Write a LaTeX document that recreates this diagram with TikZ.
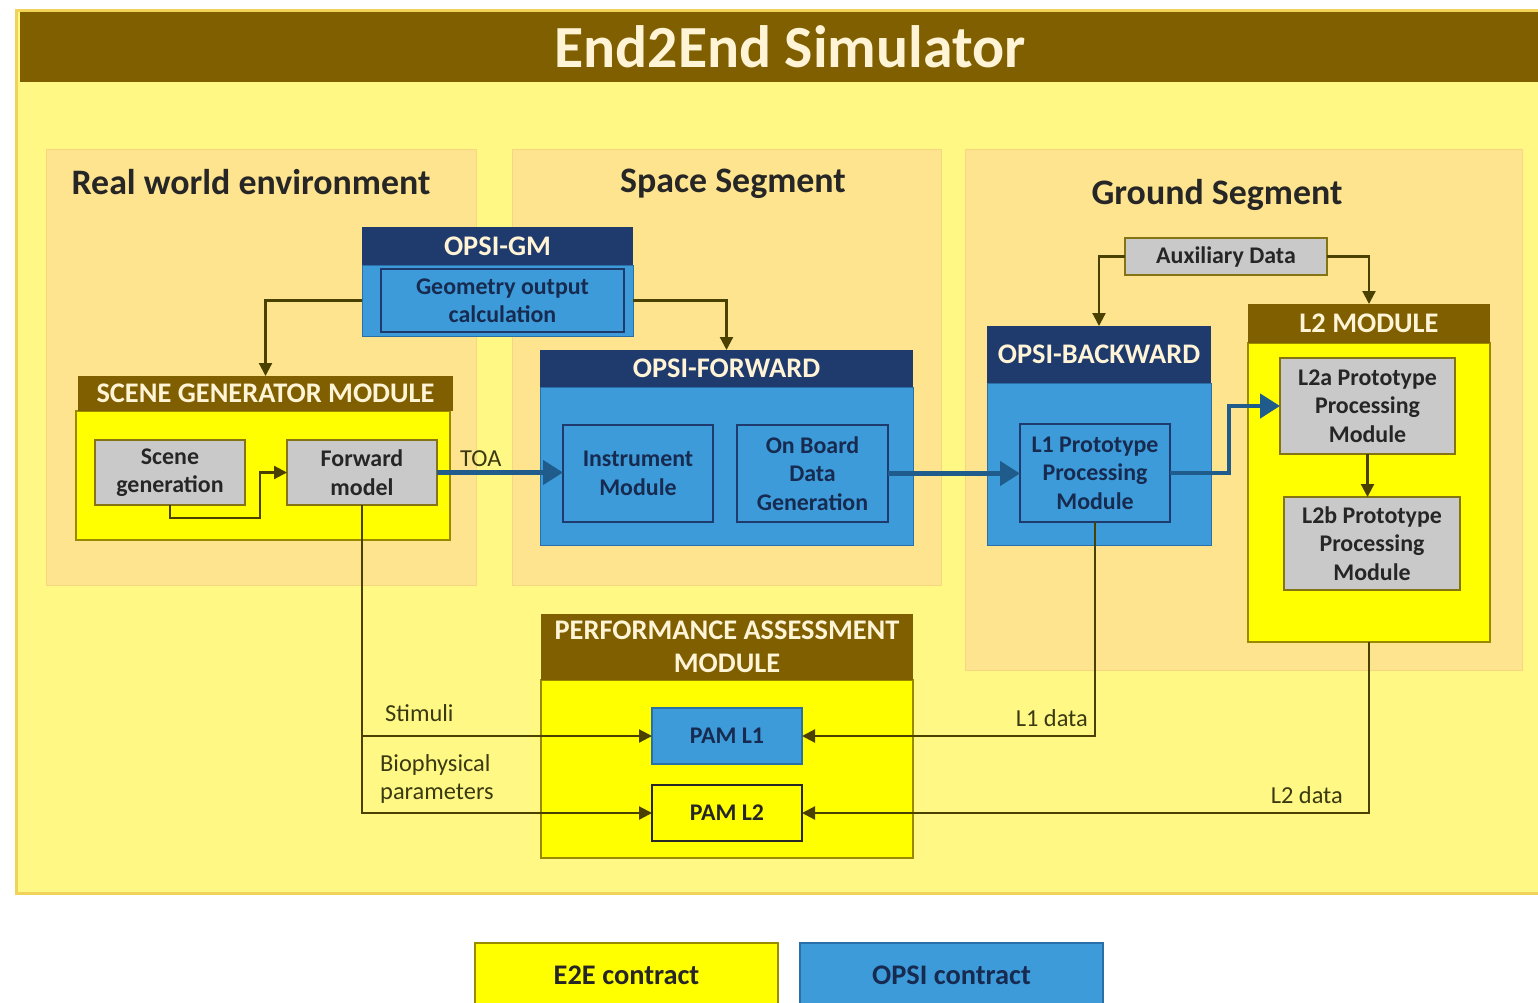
\documentclass[tikz,border=0pt]{standalone}
\usepackage{fontspec}
\setmainfont{Carlito}
\usetikzlibrary{arrows.meta,calc}

\definecolor{panelyellow}{HTML}{FFF884}
\definecolor{panelrim}{HTML}{F2D35A}
\definecolor{segfill}{HTML}{FFE490}
\definecolor{segrim}{HTML}{F6D67E}
\definecolor{barbrown}{HTML}{7F5F00}
\definecolor{cream}{HTML}{FFF4D6}
\definecolor{navy}{HTML}{1F3A6C}
\definecolor{opsiblue}{HTML}{3D9BDA}
\definecolor{bluerim}{HTML}{2A6FA8}
\definecolor{bluetext}{HTML}{172B50}
\definecolor{boxgray}{HTML}{C9C9C9}
\definecolor{grayrim}{HTML}{857414}
\definecolor{e2eyellow}{HTML}{FFFF00}
\definecolor{yellowrim}{HTML}{9A8A00}
\definecolor{wire}{HTML}{4A4000}
\definecolor{flow}{HTML}{1F5C8C}
\definecolor{darktext}{HTML}{262626}
\definecolor{labeltext}{HTML}{3A3A12}

\tikzset{
  rect/.style 2 args={minimum width=#1bp, minimum height=#2bp, anchor=north west,
    inner sep=0pt, outer sep=0pt},
  hdrbrown/.style={fill=barbrown, text=cream, align=center,
    font=\bfseries\fontsize{28.5}{33}\selectfont},
  hdrnavy/.style={fill=navy, text=cream, align=center,
    font=\bfseries\fontsize{28.5}{33}\selectfont},
  e2ebody/.style={fill=e2eyellow, draw=yellowrim, line width=1.5bp},
  opsibody/.style={fill=opsiblue, draw=bluerim, line width=1bp},
  graybox/.style={fill=boxgray, draw=grayrim, line width=2bp, text=darktext,
    align=center, font=\bfseries\fontsize{24}{28.5}\selectfont},
  bluebox/.style={fill=opsiblue, draw=navy, line width=1.6bp, text=bluetext,
    align=center, font=\bfseries\fontsize{24}{28.5}\selectfont},
  segtitle/.style={text=darktext, font=\bfseries\fontsize{36}{40}\selectfont},
  wirelabel/.style={text=labeltext, align=left, inner sep=0pt,
    font=\fontsize{24.5}{29}\selectfont},
  conn/.style={draw=wire, line width=2.2bp,
    -{Triangle[length=13bp,width=13bp]}},
  bigflow/.style={draw=flow, line width=4.5bp,
    -{Triangle[length=20bp,width=24bp]}},
}

\begin{document}
\begin{tikzpicture}[x=1bp,y=-1bp]
\fill[white] (0,0) rectangle (1538,1002);
\useasboundingbox (0,0) rectangle (1538,1002);

% simulator frame and title bar
\node[rect={1540}{883}, fill=panelyellow, draw=panelrim, line width=3bp] (frame) at (16,10) {};
\node[rect={1540}{70}, fill=barbrown, text=cream,
  font=\bfseries\fontsize{60}{62}\selectfont] (titlebar) at (20,12) {End2End Simulator};

% segments
\node[rect={430}{436}, fill=segfill, draw=segrim, line width=1bp] (realseg) at (46,149) {};
\node[rect={429}{436}, fill=segfill, draw=segrim, line width=1bp] (spaceseg) at (512,149) {};
\node[rect={557}{521}, fill=segfill, draw=segrim, line width=1bp] (groundseg) at (965,149) {};
\node[segtitle] (realtitle) at (251,182) {Real world environment};
\node[segtitle] (spacetitle) at (733,184) {Space Segment};
\node[segtitle] (groundtitle) at (1217,195) {Ground Segment};

% OPSI-GM
\node[rect={271}{71}, opsibody] (gmbody) at (362,265) {};
\node[rect={271}{38}, hdrnavy] (gmhead) at (362,227) {OPSI-GM};
\node[rect={243}{63}, bluebox] (geom) at (381,269) {Geometry output\\calculation};

% scene generator module
\node[rect={374}{129}, e2ebody] (sgmbody) at (76,411) {};
\node[rect={375}{35}, hdrbrown] (sgmhead) at (78,376) {SCENE GENERATOR MODULE};
\node[rect={150}{65}, graybox] (scene) at (95,440) {Scene\\generation};
\node[rect={150}{65}, graybox] (fwdmodel) at (287,440) {Forward\\model};

% OPSI-FORWARD
\node[rect={373}{158}, opsibody] (fwdbody) at (540,387) {};
\node[rect={373}{37}, hdrnavy] (fwdhead) at (540,350) {OPSI-FORWARD};
\node[rect={150}{97}, bluebox] (instr) at (563,425) {Instrument\\Module};
\node[rect={151}{97}, bluebox] (onboard) at (737,425) {On Board\\Data\\Generation};

% OPSI-BACKWARD
\node[rect={224}{162}, opsibody] (bwdbody) at (987,383) {};
\node[rect={224}{57}, hdrnavy] (bwdhead) at (987,326) {OPSI-BACKWARD};
\node[rect={150}{98}, bluebox] (l1proc) at (1020,424) {L1 Prototype\\Processing\\Module};

% auxiliary data
\node[rect={202}{37}, graybox, line width=1.5bp] (aux) at (1125,238) {Auxiliary Data};

% L2 module
\node[rect={242}{299}, e2ebody] (l2body) at (1248,343) {};
\node[rect={242}{39}, hdrbrown] (l2head) at (1248,304) {L2 MODULE};
\node[rect={175}{96}, graybox] (l2a) at (1280,358) {L2a Prototype\\Processing\\Module};
\node[rect={176}{93}, graybox] (l2b) at (1284,497) {L2b Prototype\\Processing\\Module};

% performance assessment module
\node[rect={372}{178}, e2ebody] (pambody) at (541,680) {};
\node[rect={372}{66}, hdrbrown] (pamhead) at (541,614) {PERFORMANCE ASSESSMENT\\MODULE};
\node[rect={150}{56}, fill=opsiblue, draw=bluerim, line width=1.5bp, text=bluetext,
  font=\bfseries\fontsize{24}{28}\selectfont] (paml1) at (652,708) {PAM L1};
\node[rect={150}{56}, fill=e2eyellow, draw=darktext, line width=2.5bp, text=darktext,
  font=\bfseries\fontsize{24}{28}\selectfont] (paml2) at (652,785) {PAM L2};

% legend
\node[rect={303}{64}, fill=e2eyellow, draw=yellowrim, line width=1.5bp, text=darktext,
  font=\bfseries\fontsize{28.5}{31}\selectfont] (e2ekey) at (475,943) {E2E contract};
\node[rect={303}{64}, fill=opsiblue, draw=bluerim, line width=1.5bp, text=bluetext,
  font=\bfseries\fontsize{28.5}{31}\selectfont] (opsikey) at (800,943) {OPSI contract};

% thin connectors
\draw[conn] (gmbody.west) -| (sgmhead.north);
\draw[conn] (gmbody.east) -| (fwdhead.north);
\draw[conn] (scene.south) -- ++(0,13) -- ++(90,0) |- (fwdmodel.west);
\draw[conn] (aux.west) -| (bwdhead.north);
\draw[conn] (aux.east) -| (l2head.north);
\draw[conn] (l2a.south) -- (l2a.south |- l2b.north);

% data flow to the performance assessment
\draw[conn] (fwdmodel.south) |- (paml2.west);
\draw[conn] (fwdmodel.south |- paml1.west) -- (paml1.west);
\draw[conn] (l1proc.south) |- (paml1.east);
\draw[conn] (l2body.south) |- (paml2.east);

% main processing chain
\draw[bigflow] (fwdmodel.east) -- (fwdmodel.east -| instr.west);
\draw[bigflow] (onboard.east) -- (onboard.east -| l1proc.west);
\draw[bigflow] (l1proc.east) -- ++(59,0) |- (l2a.west);

% connector labels
\node[wirelabel, anchor=west] (toa) at (460,459) {TOA};
\node[wirelabel, anchor=west] (stim) at (385,713) {Stimuli};
\node[wirelabel, anchor=west] (bio) at (380,779) {Biophysical\\parameters};
\node[wirelabel, anchor=east] (l1lab) at (1088,718) {L1 data};
\node[wirelabel, anchor=east] (l2lab) at (1343,795) {L2 data};
\end{tikzpicture}
\end{document}
